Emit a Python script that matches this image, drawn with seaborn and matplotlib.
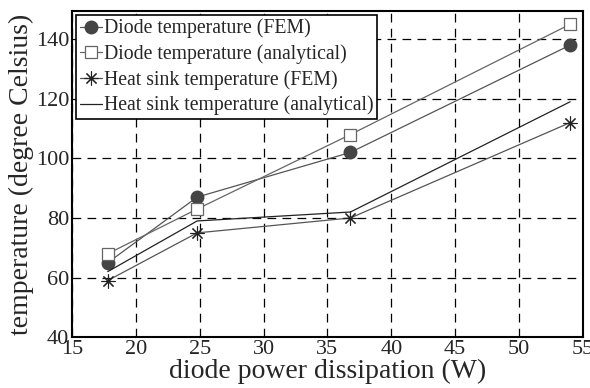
import numpy as np
import pandas as pd
import matplotlib
matplotlib.use("Agg")
import matplotlib.pyplot as plt
import seaborn as sns

# power dissipation (W) and temperatures (degree Celsius)
power = [17.8, 24.8, 36.8, 54.0]
diode_fem = [65, 87, 102, 138]
diode_analytical = [68, 83, 108, 145]
sink_fem = [59, 75, 80, 112]
sink_analytical = [62, 79, 82, 119]

labels = ["Diode temperature (FEM)", "Diode temperature (analytical)",
          "Heat sink temperature (FEM)", "Heat sink temperature (analytical)"]
series = [diode_fem, diode_analytical, sink_fem, sink_analytical]

df = pd.concat([pd.DataFrame({"power": power, "temp": s, "series": lab})
                for lab, s in zip(labels, series)], ignore_index=True)

sns.set_style("white")
plt.rcParams["font.family"] = ["Liberation Serif", "DejaVu Serif"]

fig, ax = plt.subplots(figsize=(5.9, 3.88), dpi=100)
fig.subplots_adjust(left=0.122, right=0.988, top=0.972, bottom=0.131)

styles = {
    labels[0]: dict(marker="o", color="#555555", mfc="#444444", mec="#444444", ms=9),
    labels[1]: dict(marker="s", color="#666666", mfc="white", mec="#666666", ms=8, mew=0.9),
    labels[2]: dict(marker=(8, 2, 0), color="#555555", mec="#222222", ms=10, mew=0.8),
    labels[3]: dict(marker=None, color="#222222"),
}
for lab in labels:
    st = styles[lab]
    sns.lineplot(data=df[df["series"] == lab], x="power", y="temp", ax=ax,
                 label=lab, lw=0.9, color=st["color"], marker=st["marker"],
                 markersize=st.get("ms", 0),
                 markerfacecolor=st.get("mfc", st["color"]),
                 markeredgecolor=st.get("mec", st["color"]),
                 markeredgewidth=st.get("mew", 1))

ax.set_xlim(15, 55)
ax.set_ylim(40, 149.5)
ax.set_xticks(np.arange(15, 56, 5))
ax.set_yticks(np.arange(40, 141, 20))
ax.grid(True, color="black", linestyle=(0, (7, 5)), lw=0.9)
for sp in ax.spines.values():
    sp.set_color("black")
    sp.set_linewidth(1.5)
ax.tick_params(labelsize=16, length=0, pad=2)
ax.set_xlabel("diode power dissipation (W)", fontsize=20, labelpad=0)
ax.set_ylabel("temperature (degree Celsius)", fontsize=20, labelpad=1)

leg = ax.legend(loc="upper left", fontsize=14.2, frameon=True, fancybox=False,
                borderpad=0.2, handlelength=1.1, handletextpad=0.1,
                labelspacing=0.3, borderaxespad=0.2)
leg.get_frame().set_edgecolor("black")
leg.get_frame().set_linewidth(1.2)
leg.get_frame().set_alpha(1)

fig.savefig("out.png", dpi=100)
